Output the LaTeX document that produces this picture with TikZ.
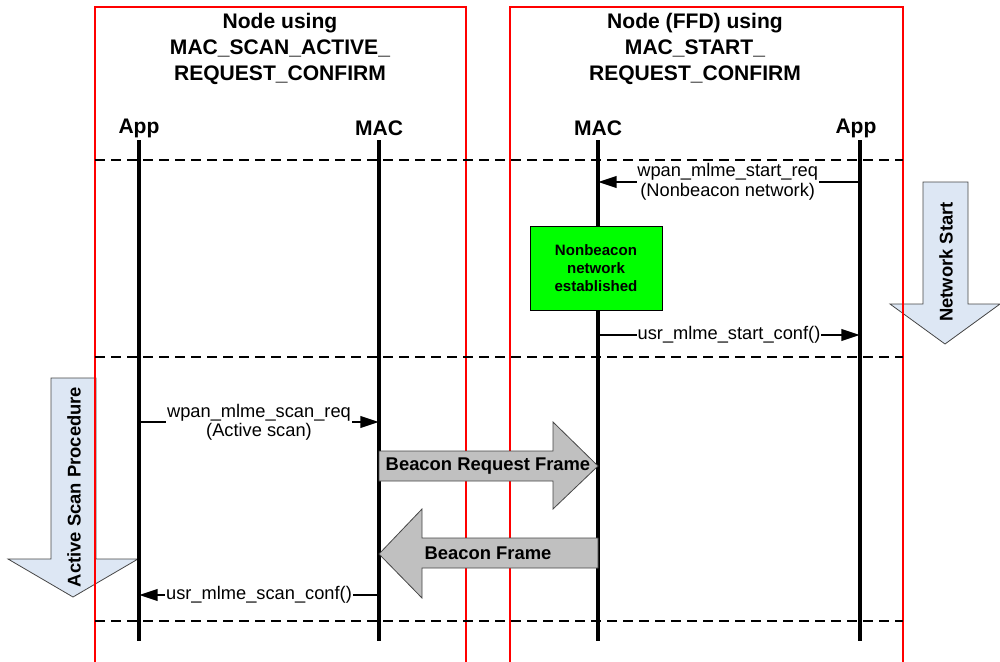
\documentclass[tikz,border=0pt]{standalone}
\usepackage{fontspec}
\setmainfont{Liberation Sans}
\usetikzlibrary{arrows.meta}
\definecolor{bluefill}{RGB}{221,231,244}
\definecolor{grayfill}{RGB}{192,192,192}
\definecolor{edgegray}{RGB}{70,70,70}
\definecolor{greenfill}{RGB}{0,255,0}
\begin{document}
\begin{tikzpicture}[x=0.75pt,y=-0.75pt,
 lifeline/.style={line width=2.3pt},
 msg/.style={line width=2.2pt,-{Triangle[length=14pt,width=8.5pt]}},
 lbl/.style={fill=white,inner sep=0.5pt,align=center,font=\fontsize{13.7}{14.6}\selectfont},
 hdr/.style={font=\bfseries\fontsize{15.8}{19.5}\selectfont,align=center},
 sepline/.style={line width=1.5pt,dash pattern=on 7.5pt off 4.5pt},
 redbox/.style={draw=red,line width=1.1pt},
 bigarrow/.style={fill=grayfill,draw=edgegray,line width=0.6pt},
 phase/.style={fill=bluefill,draw=edgegray,line width=0.6pt},
 bigtext/.style={font=\bfseries\fontsize{13.8}{15}\selectfont},
 statebox/.style={draw=black,line width=0.6pt,fill=greenfill,minimum width=99pt,minimum height=63pt,align=center,font=\bfseries\fontsize{11.3}{13.5}\selectfont,inner sep=0pt},
]
\useasboundingbox (0,0) rectangle (1000,661);

% phase arrows
\draw[phase] (923,182) -- (968,182) -- (968,304) -- (1000,304) -- (945,344) -- (890,304) -- (923,304) -- cycle;
\node[bigtext,rotate=90] (netstart) at (946,262) {Network Start};
\draw[phase] (51,378) -- (96,378) -- (96,559) -- (138,559) -- (73,597) -- (8,559) -- (51,559) -- cycle;
\node[bigtext,rotate=90] (actscan) at (74,487) {Active Scan Procedure};

% red boxes
\draw[redbox] (95,662) -- (95,7) -- (466,7) -- (466,662);
\draw[redbox] (510,662) -- (510,7) -- (903,7) -- (903,662);

% titles
\node[hdr] (titleL) at (280,49) {Node using\\MAC\_SCAN\_ACTIVE\_\\REQUEST\_CONFIRM};
\node[hdr] (titleR) at (695,49) {Node (FFD) using\\MAC\_START\_\\REQUEST\_CONFIRM};

% lifeline headers
\node[hdr] (appL) at (139,128) {App};
\node[hdr] (macL) at (379,128) {MAC};
\node[hdr] (macR) at (598,128) {MAC};
\node[hdr] (appR) at (856,128) {App};

% separators
\coordinate (s1a) at (95,160); \coordinate (s1b) at (903,160);
\coordinate (s2a) at (95,357); \coordinate (s2b) at (903,357);
\coordinate (s3a) at (95,621); \coordinate (s3b) at (903,621);
\draw[sepline] (s1a) -- (s1b);
\draw[sepline] (s2a) -- (s2b);
\draw[sepline] (s3a) -- (s3b);

% lifelines
\coordinate (appLend) at (139,641);
\coordinate (macLend) at (379,641);
\coordinate (macRend) at (598,641);
\coordinate (appRend) at (860,641);
\draw[lifeline] (139,140) -- (appLend);
\draw[lifeline] (379,140) -- (macLend);
\draw[lifeline] (598,140) -- (macRend);
\draw[lifeline] (860,140) -- (appRend);

% beacon frames
\draw[bigarrow] (379,451) -- (553,451) -- (553,422) -- (598,466) -- (553,509) -- (553,481) -- (379,481) -- cycle;
\node[bigtext] (breq) at (488,466) {Beacon Request Frame};
\draw[bigarrow] (598,538) -- (422,538) -- (422,509) -- (379,554) -- (422,598) -- (422,568) -- (598,568) -- cycle;
\node[bigtext] (bfr) at (488,553) {Beacon Frame};

% state box
\node[statebox] (est) at (596,268) {Nonbeacon\\network\\established};

% messages
\coordinate (m1a) at (860,182); \coordinate (m1b) at (598,182);
\draw[msg] (m1a) -- node[lbl,pos=0.505] (m1l) {wpan\_mlme\_start\_req\\(Nonbeacon network)} (m1b);
\coordinate (m2a) at (598,335); \coordinate (m2b) at (860,335);
\draw[msg] (m2a) -- node[lbl,pos=0.5] (m2l) {usr\_mlme\_start\_conf()} (m2b);
\coordinate (m3a) at (139,422); \coordinate (m3b) at (379,422);
\draw[msg] (m3a) -- node[lbl,pos=0.5] (m3l) {wpan\_mlme\_scan\_req\\(Active scan)} (m3b);
\coordinate (m4a) at (379,595); \coordinate (m4b) at (139,595);
\draw[msg] (m4a) -- node[lbl,pos=0.5] (m4l) {usr\_mlme\_scan\_conf()} (m4b);
\end{tikzpicture}
\end{document}
